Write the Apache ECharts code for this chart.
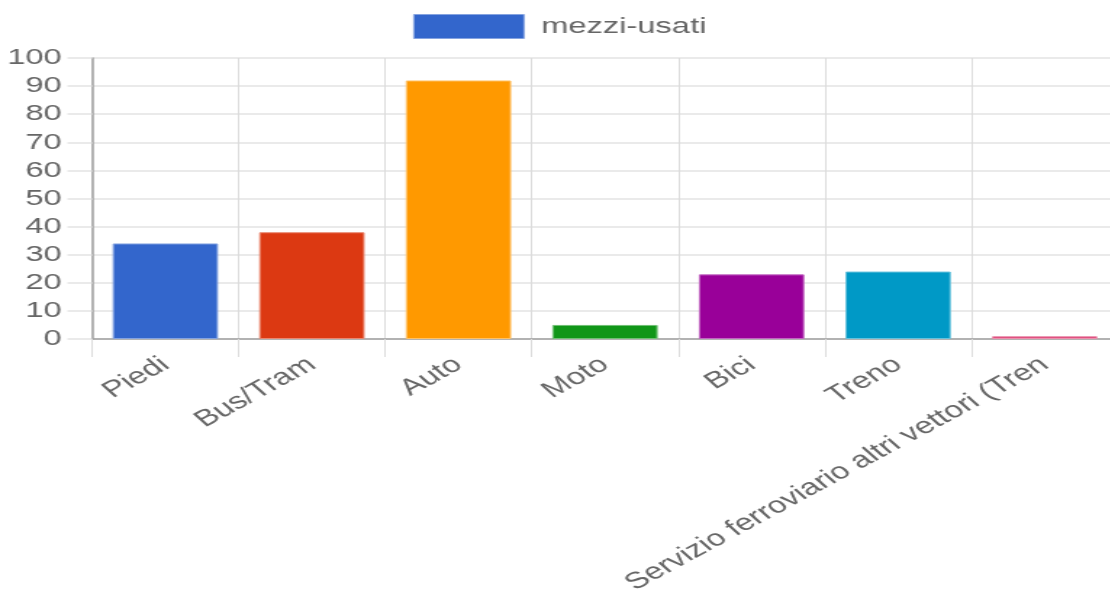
<!DOCTYPE html>
<html>
<head>
<meta charset="utf-8">
<script src="https://cdn.jsdelivr.net/npm/echarts@6/dist/echarts.min.js"></script>
<style>
html,body{margin:0;padding:0;background:#fff;overflow:hidden;width:1110px;height:603px;}
#c{width:772px;height:603px;transform:scaleX(1.45);transform-origin:0 0;}
</style>
</head>
<body>
<div id="c"></div>
<script>
const categories = ['Piedi', 'Bus/Tram', 'Auto', 'Moto', 'Bici', 'Treno', 'Servizio ferroviario altri vettori (Tren'];
const values = [34, 38, 92, 5, 23, 24, 1];
const colors = ['#3366cc', '#dc3912', '#ff9900', '#109618', '#990099', '#0099c6', '#dd4477'];
const borders = ['#85a3e0', '#ea8871', '#ffc266', '#70c074', '#c266c2', '#66c2dd', '#eb8fad'];
const seriesName = 'mezzi-usati';
const yTicks = { min: 0, max: 100, interval: 10 };

const chart = echarts.init(document.getElementById('c'));
const font = '"Liberation Sans", Arial, sans-serif';
chart.setOption({
  animation: false,
  textStyle: { fontFamily: font },
  legend: {
    top: 14, left: 'center',
    itemWidth: 76, itemHeight: 24, itemGap: 10,
    icon: 'rect',
    padding: [0, 5, 5, 0],
    textStyle: { fontSize: 22.5, color: '#666', fontFamily: font, padding: [0, 0, 0, 7] },
    data: [{ name: seriesName, itemStyle: { color: '#3366cc', borderColor: '#85a3e0', borderWidth: 1 } }]
  },
  grid: { left: 63.5, top: 58, bottom: 264, right: 1, containLabel: false },
  xAxis: {
    type: 'category',
    data: categories,
    boundaryGap: true,
    axisLine: { show: true, lineStyle: { color: '#a0a0a0', width: 1.5 } },
    axisTick: { show: true, length: 18, alignWithLabel: false, lineStyle: { color: '#dcdcdc', width: 1 } },
    splitLine: { show: true, lineStyle: { color: '#dcdcdc', width: 1 } },
    axisLabel: { rotate: 38, interval: 0, margin: 23, fontSize: 23, color: '#666', fontFamily: font }
  },
  yAxis: {
    type: 'value',
    min: yTicks.min, max: yTicks.max, interval: yTicks.interval,
    axisLine: { show: true, lineStyle: { color: '#a0a0a0', width: 1.5 } },
    axisTick: { show: true, length: 17, lineStyle: { color: '#e3e3e3', width: 1.5 } },
    splitLine: { show: true, lineStyle: { color: '#e3e3e3', width: 1.5 } },
    axisLabel: { margin: 21, fontSize: 22.5, color: '#666', fontFamily: font }
  },
  series: [{
    name: seriesName,
    type: 'bar',
    barWidth: '72%',
    data: values.map((v, i) => ({
      value: v,
      itemStyle: { color: colors[i], borderColor: borders[i], borderWidth: 1 }
    }))
  }]
});
</script>
</body>
</html>
